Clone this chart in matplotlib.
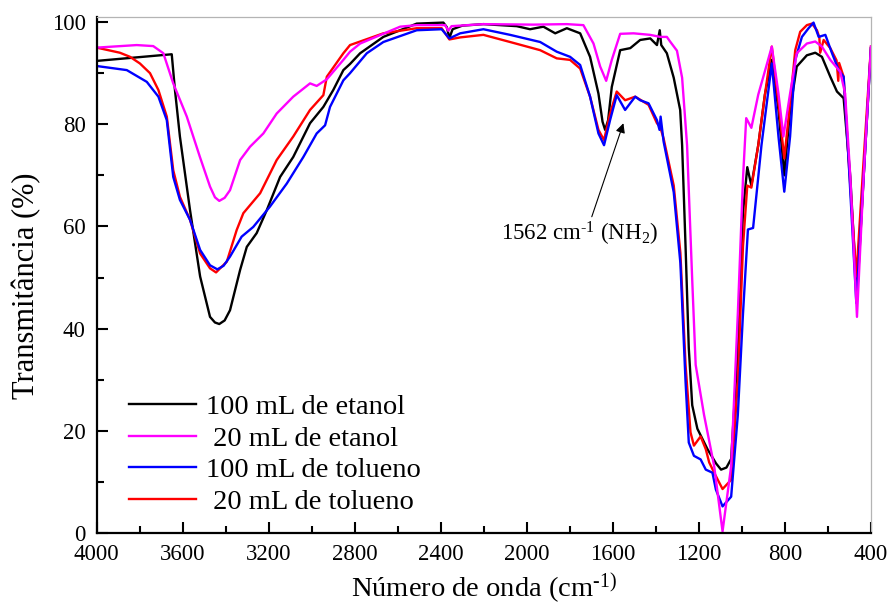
import matplotlib
matplotlib.use('Agg')
import matplotlib.pyplot as plt
from matplotlib.ticker import MultipleLocator
import numpy as np

plt.rcParams['font.family'] = ['Liberation Serif', 'DejaVu Serif']
plt.rcParams['mathtext.fontset'] = 'custom'
plt.rcParams['mathtext.rm'] = 'Liberation Serif'
plt.rcParams['mathtext.it'] = 'Liberation Serif:italic'

# ── FTIR spectra: wavenumber (cm-1) / transmittance (%) ─────────────────────
wn_eth100 = [4000, 3651, 3636, 3613, 3566, 3519, 3473, 3450, 3430, 3405, 3380,
             3333, 3302, 3256, 3209, 3147, 3086, 3008, 2946, 2900, 2853, 2822,
             2775, 2667, 2512, 2388, 2372, 2360, 2345, 2300, 2202, 2047, 1985,
             1923, 1868, 1814, 1752, 1706, 1667, 1648, 1636, 1622, 1605, 1566,
             1519, 1473, 1426, 1395, 1382, 1375, 1349, 1317, 1287, 1278, 1262,
             1247, 1231, 1207, 1160, 1120, 1097, 1072, 1050, 1019, 995, 975, 956,
             924, 893, 861, 830, 803, 776, 745, 698, 659, 628, 589, 558, 527, 496,
             465, 434, 400]
t_eth100 = [92.4, 93.7, 86.7, 77.6, 63.2, 50.2, 42.3, 41.2, 40.9, 41.6, 43.6,
            51.5, 56.0, 58.7, 63.2, 69.7, 73.6, 80.2, 83.4, 86.7, 90.6, 91.8,
            93.9, 97.1, 99.7, 99.9, 99.0, 96.9, 98.6, 99.3, 99.6, 99.2, 98.6,
            99.1, 97.8, 98.8, 97.8, 93.2, 86.0, 80.5, 78.9, 80.8, 87.3, 94.5,
            94.9, 96.5, 96.8, 95.5, 98.4, 95.5, 93.9, 89.1, 82.8, 75.9, 56.1,
            36.2, 25.0, 20.4, 16.4, 13.6, 12.4, 12.8, 14.5, 36.2, 62.7, 71.6, 68.0,
            75.9, 85.8, 92.6, 82.8, 70.0, 82.8, 91.3, 93.5, 94.0, 93.2, 89.3, 86.4,
            85.1, 69.7, 46.0, 69.7, 94.9]

wn_eth20 = [4000, 3814, 3737, 3690, 3644, 3581, 3520, 3473, 3450, 3430, 3405,
            3380, 3333, 3287, 3225, 3163, 3086, 3008, 2977, 2930, 2853, 2822,
            2775, 2589, 2512, 2380, 2365, 2350, 2202, 1969, 1814, 1737, 1690,
            1659, 1631, 1605, 1566, 1504, 1427, 1380, 1349, 1334, 1302, 1278,
            1255, 1231, 1215, 1176, 1129, 1090, 1050, 1019, 995, 980, 956, 924,
            893, 861, 830, 807, 776, 745, 698, 659, 628, 589, 543, 520, 496, 465,
            434, 400]
t_eth20 = [95.0, 95.5, 95.3, 93.9, 88.0, 81.5, 73.6, 67.8, 65.7, 65.0, 65.6,
           67.1, 73.0, 75.6, 78.2, 82.1, 85.4, 88.0, 87.5, 88.8, 92.6, 94.2,
           95.8, 99.1, 99.4, 99.4, 98.3, 99.2, 99.6, 99.5, 99.6, 99.4, 95.8,
           91.3, 88.5, 92.6, 97.7, 97.8, 97.5, 97.1, 97.1, 96.2, 94.4, 89.1,
           75.9, 49.5, 32.9, 23.1, 13.1, 0.3, 13.1, 42.9, 69.3, 81.2, 79.3, 85.8,
           90.4, 95.2, 86.0, 77.6, 86.0, 93.9, 95.8, 96.2, 95.2, 92.6, 90.3, 86.0,
           69.7, 42.3, 69.7, 95.2]

wn_tol100 = [4000, 3860, 3767, 3713, 3674, 3644, 3613, 3566, 3519, 3473, 3439,
             3410, 3380, 3326, 3272, 3194, 3116, 3039, 2977, 2938, 2915, 2853,
             2822, 2744, 2667, 2512, 2396, 2360, 2310, 2202, 2078, 1938, 1861,
             1799, 1752, 1706, 1667, 1641, 1613, 1582, 1543, 1496, 1473, 1434,
             1395, 1383, 1378, 1364, 1317, 1286, 1262, 1247, 1223, 1192, 1168,
             1137, 1121, 1090, 1050, 1019, 995, 972, 948, 909, 861, 830, 803, 776,
             752, 721, 690, 667, 643, 612, 581, 550, 527, 504, 468, 434, 400]
t_tol100 = [91.4, 90.6, 88.3, 85.4, 80.8, 69.7, 65.2, 61.3, 55.4, 52.4, 51.6,
            52.3, 54.1, 58.0, 59.9, 63.9, 68.4, 73.6, 78.2, 79.8, 83.4, 88.6,
            90.0, 93.9, 96.1, 98.4, 98.6, 96.8, 97.8, 98.6, 97.5, 96.1, 94.2,
            93.2, 91.6, 85.4, 78.2, 75.9, 80.8, 85.7, 82.8, 85.4, 84.7, 84.1,
            80.8, 78.9, 81.5, 76.6, 66.7, 52.8, 29.6, 17.7, 15.1, 14.4, 12.4,
            11.8, 8.5, 5.2, 7.1, 23.1, 42.9, 59.4, 59.7, 75.9, 91.9, 77.6, 66.8,
            77.6, 92.6, 97.1, 98.8, 99.9, 97.1, 97.5, 93.9, 90.6, 89.3, 73.0,
            45.0, 69.7, 94.9]

wn_tol20 = [4000, 3892, 3845, 3799, 3752, 3713, 3674, 3644, 3613, 3566, 3519,
            3473, 3445, 3395, 3349, 3318, 3240, 3163, 3086, 3008, 2946, 2930,
            2853, 2822, 2667, 2512, 2396, 2360, 2310, 2202, 2078, 1938, 1861,
            1799, 1752, 1706, 1667, 1641, 1613, 1582, 1543, 1496, 1434, 1395,
            1380, 1364, 1317, 1286, 1262, 1239, 1223, 1192, 1168, 1152, 1129,
            1090, 1050, 1019, 995, 975, 956, 924, 893, 861, 830, 803, 776, 752,
            729, 698, 674, 651, 640, 636, 620, 589, 560, 552, 548, 527, 504, 468,
            434, 400]
t_tol20 = [95.0, 94.0, 93.2, 91.9, 90.0, 86.7, 81.5, 71.0, 65.8, 61.3, 54.7,
           51.8, 51.0, 53.1, 59.3, 62.6, 66.5, 73.0, 77.6, 82.8, 85.7, 89.3,
           93.9, 95.5, 97.8, 98.8, 98.8, 96.6, 97.0, 97.5, 96.1, 94.5, 92.9,
           92.6, 90.9, 85.4, 78.9, 76.9, 82.1, 86.4, 84.7, 85.4, 83.8, 80.2,
           79.5, 77.2, 68.0, 54.8, 32.9, 19.7, 17.1, 18.9, 16.4, 13.8, 11.8,
           8.6, 10.4, 29.6, 56.1, 68.0, 67.6, 75.9, 85.8, 95.2, 84.1, 73.3, 84.1,
           94.5, 98.1, 99.4, 99.7, 98.4, 97.0, 94.0, 96.5, 94.9, 92.5, 88.5,
           92.0, 89.3, 73.0, 50.2, 73.0, 95.2]

labels = ['100 mL de etanol', ' 20 mL de etanol',
          '100 mL de tolueno', ' 20 mL de tolueno']
colors = ['#000000', '#ff00ff', '#0000ff', '#ff0000']

# ── Figure ──────────────────────────────────────────────────────────────────
fig = plt.figure(figsize=(8.91, 6.06), dpi=100)
ax = fig.add_axes([0.1085, 0.1205, 0.869, 0.8515])

lw = 1.7
l_eth100, = ax.plot(wn_eth100, t_eth100, color=colors[0], lw=lw)
l_tol20, = ax.plot(wn_tol20, t_tol20, color=colors[3], lw=lw)
l_tol100, = ax.plot(wn_tol100, t_tol100, color=colors[2], lw=lw)
l_eth20, = ax.plot(wn_eth20, t_eth20, color=colors[1], lw=lw)

ax.set_xlim(4000, 400)
ax.set_ylim(0, 101)
ax.xaxis.set_major_locator(MultipleLocator(400))
ax.xaxis.set_minor_locator(MultipleLocator(200))
ax.yaxis.set_major_locator(MultipleLocator(20))
ax.yaxis.set_minor_locator(MultipleLocator(10))
ax.tick_params(which='both', direction='in', width=1.5, labelsize=16.5,
               top=False, right=False)
ax.tick_params(which='major', length=8)
ax.tick_params(which='minor', length=5)
ax.tick_params(axis='x', pad=8)
ax.tick_params(axis='y', pad=8)

for side in ('left', 'bottom'):
    ax.spines[side].set_linewidth(1.6)
for side in ('top', 'right'):
    ax.spines[side].set_linewidth(0.9)
    ax.spines[side].set_color('#b4b4b4')

ax.set_xlabel('Número de onda (cm$^{\\text{-1)}}$', fontsize=20.5)
ax.set_ylabel('Transmitância (%)', fontsize=22)
ax.xaxis.set_label_coords(0.5, -0.075)
ax.yaxis.set_label_coords(-0.071, 0.48)

# NH2 band marker
ax.text(2121, 58.5, '1562 cm$^{\\text{-1}}$ (NH$_{\\mathregular{2}}$)',
        fontsize=16.5, ha='left', va='center')
ax.annotate('', xy=(1551, 80.2), xytext=(1698, 61.9),
            arrowprops=dict(arrowstyle='-|>', color='black', lw=0.8,
                            mutation_scale=14, shrinkA=0, shrinkB=0))

ax.legend([l_eth100, l_eth20, l_tol100, l_tol20], labels,
          loc='lower left', bbox_to_anchor=(0.042, 0.035), frameon=False,
          fontsize=20.5, handlelength=2.35, handletextpad=0.35,
          labelspacing=0.2, borderpad=0, borderaxespad=0)

fig.savefig('out.png', dpi=100)
